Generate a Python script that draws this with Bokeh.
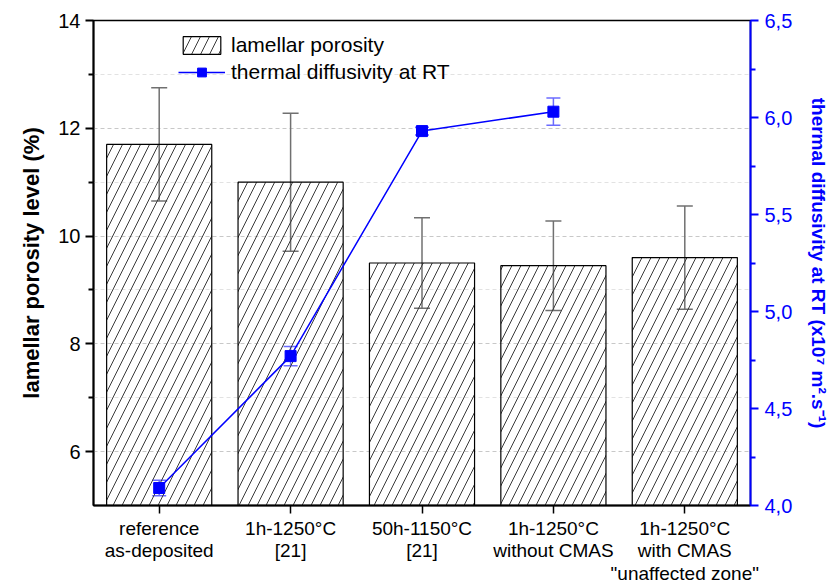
from bokeh.plotting import figure
from bokeh.models import (Range1d, LinearAxis, FixedTicker, Whisker, TeeHead, ColumnDataSource,
                          Legend, LegendItem, CustomJSTickFormatter)
from bokeh.embed import file_html
from bokeh.resources import INLINE

# ---- data ----
categories = ["reference\nas-deposited", "1h-1250°C\n[21]", "50h-1150°C\n[21]",
              "1h-1250°C\nwithout CMAS", "1h-1250°C\nwith CMAS\n\"unaffected zone\""]
positions = [1, 2, 3, 4, 5]
porosity = [11.7, 11.0, 9.5, 9.45, 9.6]
porosity_err = [1.05, 1.28, 0.84, 0.83, 0.96]
td_positions = [1, 2, 3, 4]
diffusivity = [4.09, 4.77, 5.93, 6.03]
diffusivity_err = [0.04, 0.05, 0.02, 0.07]
left_ticks = [6, 8, 10, 12, 14]
left_minor = [7, 9, 11, 13]
right_ticks = [4.0, 4.5, 5.0, 5.5, 6.0, 6.5]
right_minor = [4.25, 4.75, 5.25, 5.75, 6.25]

FONT = "Liberation Sans"

bar_src = ColumnDataSource(dict(
    x=positions, top=porosity,
    upper=[v + e for v, e in zip(porosity, porosity_err)],
    lower=[v - e for v, e in zip(porosity, porosity_err)],
))
td_src = ColumnDataSource(dict(
    x=td_positions, y=diffusivity,
    upper=[v + e for v, e in zip(diffusivity, diffusivity_err)],
    lower=[v - e for v, e in zip(diffusivity, diffusivity_err)],
))

p = figure(width=832, height=586, x_range=Range1d(0.5, 5.5), y_range=Range1d(5, 14),
           output_backend="svg", toolbar_location=None,
           min_border_left=93, min_border_right=79, min_border_top=20, min_border_bottom=80)
p.background_fill_color = "white"
p.border_fill_color = "white"
p.outline_line_color = "black"
p.outline_line_width = 1.5

# grids
p.xgrid.visible = False
p.ygrid.grid_line_color = "#c8c8c8"
p.ygrid.grid_line_dash = "4 3"
p.ygrid.grid_line_width = 1
p.ygrid.minor_grid_line_color = "#e2e2e2"
p.ygrid.minor_grid_line_dash = "4 3"

# left axis
ya = p.yaxis[0]
ya.ticker = FixedTicker(ticks=left_ticks, minor_ticks=left_minor)
ya.axis_line_width = 2
ya.axis_line_color = "black"
ya.major_tick_line_color = "black"
ya.minor_tick_line_color = "black"
ya.major_tick_in = 0
ya.major_tick_out = 8
ya.minor_tick_in = 0
ya.minor_tick_out = 5
ya.major_tick_line_width = 2
ya.minor_tick_line_width = 2
ya.major_label_text_color = "black"
ya.major_label_text_font = FONT
ya.major_label_text_font_size = "20px"
ya.major_label_standoff = 5
ya.axis_label = "lamellar porosity level (%)"
ya.axis_label_text_color = "black"
ya.axis_label_text_font = FONT
ya.axis_label_text_font_style = "bold"
ya.axis_label_text_font_size = "22px"
ya.axis_label_standoff = 11

# bottom axis
xa = p.xaxis[0]
xa.ticker = FixedTicker(ticks=positions, minor_ticks=[])
xa.major_label_overrides = dict(zip(positions, categories))
xa.axis_line_width = 2
xa.axis_line_color = "black"
xa.major_tick_line_color = "black"
xa.major_tick_in = 0
xa.major_tick_out = 8
xa.major_tick_line_width = 1.5
xa.major_label_text_color = "black"
xa.major_label_text_font = FONT
xa.major_label_text_font_size = "19px"
xa.major_label_text_line_height = 1.08
xa.major_label_standoff = 4

# right axis
p.extra_y_ranges = {"td": Range1d(4.0, 6.5)}
ra = LinearAxis(y_range_name="td",
                ticker=FixedTicker(ticks=right_ticks, minor_ticks=right_minor),
                formatter=CustomJSTickFormatter(code="return tick.toFixed(1).replace('.', ',');"))
ra.axis_line_color = "blue"
ra.axis_line_width = 2
ra.major_tick_line_color = "blue"
ra.minor_tick_line_color = "blue"
ra.major_tick_in = 0
ra.major_tick_out = 8
ra.minor_tick_in = 0
ra.minor_tick_out = 5
ra.major_tick_line_width = 2
ra.minor_tick_line_width = 2
ra.major_label_text_color = "blue"
ra.major_label_text_font = FONT
ra.major_label_text_font_size = "20px"
ra.major_label_standoff = 6
ra.axis_label = "thermal diffusivity at RT (x10⁷ m².s⁻¹)"
ra.axis_label_text_color = "blue"
ra.axis_label_text_font = FONT
ra.axis_label_text_font_style = "bold"
ra.axis_label_text_font_size = "19px"
ra.axis_label_standoff = 13
p.add_layout(ra, "right")

# bars
bars = p.vbar(x="x", top="top", bottom=0, width=0.8, source=bar_src,
              fill_color=None, line_color="black", line_width=1.2,
              hatch_pattern="/", hatch_scale=18, hatch_color="#3a3a3a", hatch_weight=1)

bw = Whisker(base="x", upper="upper", lower="lower", source=bar_src,
             line_color="#707070", line_width=1.5,
             upper_head=TeeHead(size=16, line_color="#707070", line_width=1.5),
             lower_head=TeeHead(size=16, line_color="#707070", line_width=1.5))
p.add_layout(bw)

# thermal diffusivity
tl = p.line(x="x", y="y", source=td_src, y_range_name="td", line_color="blue", line_width=1.5)
tw = Whisker(base="x", upper="upper", lower="lower", source=td_src, y_range_name="td",
             line_color="#6b6bff", line_width=1.5,
             upper_head=TeeHead(size=14, line_color="#6b6bff", line_width=1.5),
             lower_head=TeeHead(size=14, line_color="#6b6bff", line_width=1.5))
p.add_layout(tw)
ts = p.scatter(x="x", y="y", source=td_src, y_range_name="td", marker="square",
               size=11, fill_color="blue", line_color="blue")

legend = Legend(items=[LegendItem(label="lamellar porosity", renderers=[bars]),
                       LegendItem(label="thermal diffusivity at RT", renderers=[tl, ts])],
                location=(85, 421), glyph_width=47, glyph_height=22,
                label_text_font=FONT, label_text_font_size="21px", label_text_color="black",
                label_standoff=6, spacing=3, padding=0, margin=0,
                border_line_color=None, background_fill_alpha=0)
p.add_layout(legend)

open("out.html", "w").write(file_html(p, INLINE))
